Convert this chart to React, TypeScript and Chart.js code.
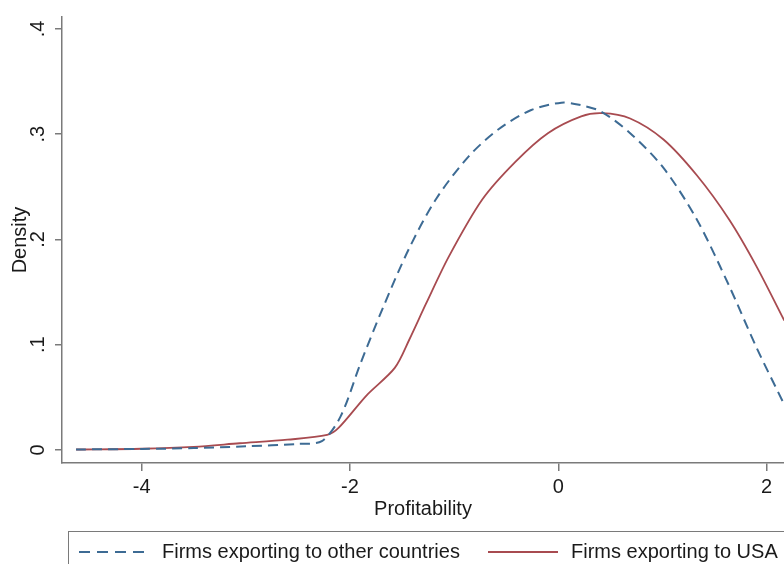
import React, { useEffect, useRef } from "react";
import { Chart, registerables } from "chart.js";

Chart.register(...registerables);

// ---- data ----
const otherX = [-4.63, -4.0, -3.5, -3.0, -2.5, -2.27, -2.09, -1.9, -1.68, -1.43, -1.17, -0.86, -0.57, -0.26, 0.03, 0.2, 0.41, 0.69, 1.01, 1.33, 1.64, 1.9, 2.17];
const otherY = [0.0005, 0.001, 0.0018, 0.0035, 0.0058, 0.0085, 0.032, 0.082, 0.136, 0.192, 0.239, 0.279, 0.305, 0.323, 0.33, 0.328, 0.3216, 0.301, 0.268, 0.219, 0.156, 0.098, 0.043];

const usaX = [-4.63, -4.0, -3.5, -3.06, -2.6, -2.22, -2.11, -1.84, -1.57, -1.43, -1.27, -1.05, -0.73, -0.41, -0.1, 0.22, 0.42, 0.69, 1.01, 1.33, 1.64, 1.9, 2.17];
const usaY = [0.0005, 0.0012, 0.003, 0.0064, 0.0098, 0.0143, 0.021, 0.052, 0.078, 0.105, 0.139, 0.184, 0.238, 0.274, 0.301, 0.317, 0.32, 0.315, 0.295, 0.261, 0.219, 0.175, 0.123];

const xTickValues = [-4, -2, 0, 2];
const xTickLabels = ["-4", "-2", "0", "2"];
const yTickValues = [0, 0.1, 0.2, 0.3, 0.4];
const yTickLabels = ["0", ".1", ".2", ".3", ".4"];

const seriesNames = ["Firms exporting to other countries", "Firms exporting to USA"];
const xTitle = "Profitability";
const yTitle = "Density";

// ---- style ----
const FONT = '"Liberation Sans", Arial, Helvetica, sans-serif';
const BLUE = "#3d6b94";
const RED = "#a84b50";
const AXIS = "#7a7a7a";
const TEXT = "#1a1a1a";

const yRotLabels = {
  id: "yRotLabels",
  afterDraw(chart: any) {
    const ctx = chart.ctx;
    const ys = chart.scales.y;
    ctx.save();
    ctx.font = `20px ${FONT}`;
    ctx.fillStyle = TEXT;
    ctx.textAlign = "center";
    ctx.textBaseline = "alphabetic";
    yTickValues.forEach((v, i) => {
      const py = ys.getPixelForValue(v);
      ctx.save();
      ctx.translate(ys.right - 18, py);
      ctx.rotate(-Math.PI / 2);
      ctx.fillText(yTickLabels[i], 0, 0);
      ctx.restore();
    });
    ctx.restore();
  },
};

export default function App() {
  const ref = useRef<HTMLCanvasElement | null>(null);

  useEffect(() => {
    if (!ref.current) return;
    Chart.defaults.font.family = FONT;
    const chart = new Chart(ref.current, {
      type: "line",
      data: {
        datasets: [
          {
            label: seriesNames[0],
            data: otherX.map((x, i) => ({ x, y: otherY[i] })),
            borderColor: BLUE,
            borderWidth: 2,
            borderDash: [10, 6],
            pointRadius: 0,
            fill: false,
            tension: 0.3,
          },
          {
            label: seriesNames[1],
            data: usaX.map((x, i) => ({ x, y: usaY[i] })),
            borderColor: RED,
            borderWidth: 1.8,
            pointRadius: 0,
            fill: false,
            tension: 0.3,
          },
        ],
      },
      options: {
        animation: false,
        responsive: false,
        maintainAspectRatio: false,
        layout: { padding: { top: 17, left: 0, right: 0, bottom: 0 } },
        plugins: { legend: { display: false }, tooltip: { enabled: false } },
        scales: {
          x: {
            type: "linear",
            min: -4.765,
            max: 2.167,
            afterBuildTicks: (s: any) => {
              s.ticks = xTickValues.map((v) => ({ value: v }));
            },
            afterFit: (s: any) => {
              s.height = 101;
            },
            ticks: {
              font: { size: 20 },
              color: TEXT,
              padding: 4,
              maxRotation: 0,
              callback: (v: any) => {
                const i = xTickValues.indexOf(Number(v));
                return i >= 0 ? xTickLabels[i] : "";
              },
            },
            grid: { drawOnChartArea: false, drawTicks: true, tickLength: 8, color: AXIS, lineWidth: 1.5 },
            border: { display: true, color: AXIS, width: 1.5 },
            title: { display: true, text: xTitle, font: { size: 20 }, color: TEXT, padding: { top: 0, bottom: 43 } },
          },
          y: {
            type: "linear",
            min: -0.01235,
            max: 0.4114,
            afterBuildTicks: (s: any) => {
              s.ticks = yTickValues.map((v) => ({ value: v }));
            },
            afterFit: (s: any) => {
              s.width = 62;
            },
            ticks: { display: false },
            grid: { drawOnChartArea: false, drawTicks: true, tickLength: 7, color: AXIS, lineWidth: 1.5 },
            border: { display: true, color: AXIS, width: 1.5 },
            title: { display: true, text: yTitle, font: { size: 20 }, color: TEXT, padding: { top: 8, bottom: 0 } },
          },
        },
      },
      plugins: [yRotLabels],
    } as any);
    return () => chart.destroy();
  }, []);

  const textStyle: React.CSSProperties = {
    position: "absolute",
    top: 541,
    fontFamily: FONT,
    fontSize: 20,
    lineHeight: "20px",
    color: TEXT,
    whiteSpace: "nowrap",
  };

  return (
    <div
      style={{
        position: "fixed",
        left: 0,
        top: 0,
        width: 784,
        height: 564,
        overflow: "hidden",
        background: "#ffffff",
      }}
    >
      <canvas ref={ref} width={784} height={564} style={{ display: "block", width: 784, height: 564 }} />
      <div
        style={{
          position: "absolute",
          left: 68,
          top: 531,
          width: 740,
          height: 60,
          border: `1.5px solid ${AXIS}`,
          boxSizing: "border-box",
        }}
      />
      <div
        style={{
          position: "absolute",
          left: 79,
          top: 550.5,
          width: 66,
          height: 2,
          background: `repeating-linear-gradient(to right, ${BLUE} 0px, ${BLUE} 11px, transparent 11px, transparent 18px)`,
        }}
      />
      <div style={{ ...textStyle, left: 162 }}>{seriesNames[0]}</div>
      <div style={{ position: "absolute", left: 488, top: 550.5, width: 70, height: 2, background: RED }} />
      <div style={{ ...textStyle, left: 571 }}>{seriesNames[1]}</div>
    </div>
  );
}
